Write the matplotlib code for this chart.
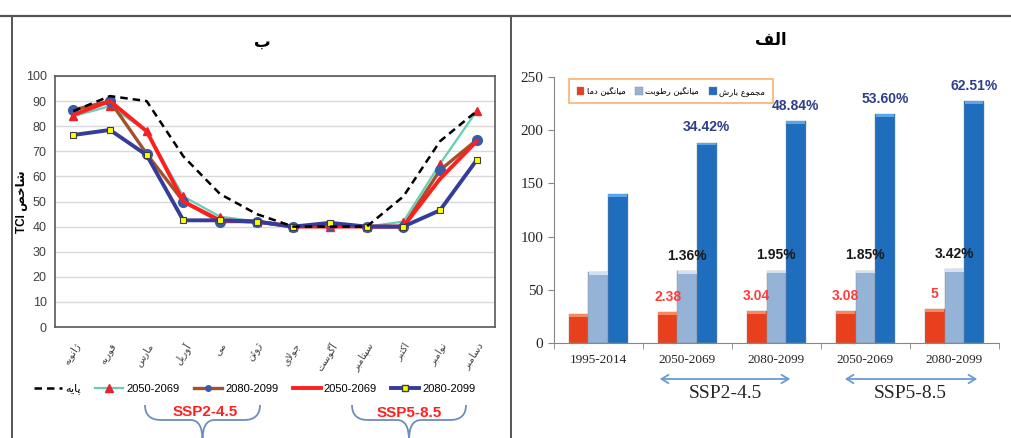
import matplotlib
matplotlib.use('Agg')
import matplotlib.pyplot as plt
from matplotlib import font_manager as fm
from matplotlib.path import Path
from matplotlib.patches import PathPatch
from matplotlib.lines import Line2D
import numpy as np

# --- data: left panel (TCI by month) ---
months = ['ژانویه', 'فوریه', 'مارس', 'آوریل', 'می', 'ژوئن',
          'جولای', 'آگوست', 'سپتامبر', 'اکتبر', 'نوامبر', 'دسامبر']
base = [86, 92, 90, 68, 53, 45, 40, 40, 40, 52, 74, 86]
ssp245_2050 = [84, 88, 78, 52, 44, 42, 40, 40, 40, 42, 65, 86]
ssp245_2080 = [86.5, 90, 69, 50, 42, 42, 40, 40.5, 40, 40, 62.5, 74.5]
ssp585_2050 = [84.5, 90, 78, 50, 42.5, 42, 40, 40, 40, 40, 59, 74]
ssp585_2080 = [76.5, 78.5, 68.5, 42.5, 42.5, 42, 40, 41.5, 40, 40, 46.5, 66.5]

# --- data: right panel (climate variables) ---
periods = ['1995-2014', '2050-2069', '2080-2099', '2050-2069', '2080-2099']
temp = [26.8, 29.2, 29.8, 29.9, 31.8]
humidity = [66.8, 67.7, 68.1, 68.0, 69.1]
precip = [140, 188.2, 208.4, 215.0, 227.5]
temp_lbl = ['', '2.38', '3.04', '3.08', '5']
hum_lbl = ['', '1.36%', '1.95%', '1.85%', '3.42%']
prec_lbl = ['', '34.42%', '48.84%', '53.60%', '62.51%']


# simple persian shaping (matplotlib does no arabic shaping)
FORMS = {
    'ا': (0xFE8D, 0xFE8E), 'آ': (0xFE81, 0xFE82), 'د': (0xFEA9, 0xFEAA),
    'ر': (0xFEAD, 0xFEAE), 'ژ': (0xFB8A, 0xFB8B), 'و': (0xFEED, 0xFEEE),
    'ب': (0xFE8F, 0xFE90, 0xFE91, 0xFE92), 'پ': (0xFB56, 0xFB57, 0xFB58, 0xFB59),
    'ت': (0xFE95, 0xFE96, 0xFE97, 0xFE98), 'ج': (0xFE9D, 0xFE9E, 0xFE9F, 0xFEA0),
    'خ': (0xFEA5, 0xFEA6, 0xFEA7, 0xFEA8), 'س': (0xFEB1, 0xFEB2, 0xFEB3, 0xFEB4),
    'ش': (0xFEB5, 0xFEB6, 0xFEB7, 0xFEB8), 'ص': (0xFEB9, 0xFEBA, 0xFEBB, 0xFEBC),
    'ط': (0xFEC1, 0xFEC2, 0xFEC3, 0xFEC4), 'ع': (0xFEC9, 0xFECA, 0xFECB, 0xFECC),
    'ف': (0xFED1, 0xFED2, 0xFED3, 0xFED4), 'ک': (0xFB8E, 0xFB8F, 0xFB90, 0xFB91),
    'گ': (0xFB92, 0xFB93, 0xFB94, 0xFB95), 'ل': (0xFEDD, 0xFEDE, 0xFEDF, 0xFEE0),
    'م': (0xFEE1, 0xFEE2, 0xFEE3, 0xFEE4), 'ن': (0xFEE5, 0xFEE6, 0xFEE7, 0xFEE8),
    'ه': (0xFEE9, 0xFEEA, 0xFEEB, 0xFEEC), 'ی': (0xFBFC, 0xFBFD, 0xFBFE, 0xFBFF),
    'ئ': (0xFE89, 0xFE8A, 0xFE8B, 0xFE8C),
}


def fa(s):
    out = []
    prev = False
    i = 0
    while i < len(s):
        c = s[i]
        nxt = s[i+1] if i+1 < len(s) else ''
        if c == 'ل' and nxt in ('ا', 'آ'):
            lig = (0xFEFB, 0xFEFC) if nxt == 'ا' else (0xFEF5, 0xFEF6)
            out.append(chr(lig[1] if prev else lig[0]))
            prev = False
            i += 2
            continue
        f = FORMS.get(c)
        if f is None:
            out.append(c)
            prev = False
            i += 1
            continue
        joins = len(f) == 4 and nxt in FORMS
        k = 3 if (prev and joins) else 1 if prev else 2 if joins else 0
        out.append(chr(f[k]))
        prev = joins
        i += 1
    return ''.join(reversed(out))


names = {f.name for f in fm.fontManager.ttflist}
NARROW = 'Liberation Sans Narrow' if 'Liberation Sans Narrow' in names else 'Liberation Sans'
SERIF = 'Liberation Serif'
FAF = 'DejaVu Sans'
plt.rcParams['font.family'] = [NARROW, FAF]

W, H = 1012, 438
fig = plt.figure(figsize=(W/100, H/100), dpi=100)


def box(x0, x1, y0, y1):
    return [x0/W, 1-y1/H, (x1-x0)/W, (y1-y0)/H]


# ---------------- left panel ----------------
ax = fig.add_axes(box(55, 495, 76, 327))
x = np.arange(len(months))
ax.plot(x, ssp245_2050, color='#67CDB3', lw=1.6, marker='^', ms=6,
        mfc='#E8232A', mec='#E8232A', zorder=3)
ax.plot(x, ssp245_2080, color='#A0522D', lw=2.4, marker='o', ms=7,
        mfc='#3A5BA8', mec='#3A5BA8', zorder=4)
ax.plot(x, ssp585_2050, color='#FF1F1F', lw=2.8, zorder=5)
ax.plot(x, ssp585_2080, color='#353C9A', lw=2.8, marker='s', ms=5,
        mfc='#FFFF00', mec='#3C3C3C', mew=0.8, zorder=6)
ax.plot(x, base, color='black', lw=1.8, ls=(0, (3, 2)), zorder=7)

ax.set_xlim(-0.5, 11.5)
ax.set_ylim(0, 100)
ax.set_yticks(range(0, 101, 10))
ax.grid(axis='y', color='#D9D9D9', lw=1)
ax.set_axisbelow(True)
for s in ax.spines.values():
    s.set_color('#595959')
    s.set_linewidth(1.2)
ax.tick_params(length=0, labelsize=9, colors='#404040', pad=6)
ax.set_xticks(x)
ax.set_xticklabels([fa(m) for m in months], rotation=58, ha='right',
                   rotation_mode='anchor', family=FAF, fontsize=7.2,
                   color='#404040')
ax.tick_params(axis='x', pad=10)
ax.set_ylabel('TCI ' + fa('شاخص'), family=[NARROW, FAF], fontsize=8.5,
              fontweight='bold')
ax.yaxis.set_label_coords(-0.062, 0.5)

h = [Line2D([], [], color='black', lw=1.8, ls=(0, (3, 2))),
     Line2D([], [], color='#67CDB3', lw=1.6, marker='^', ms=6, mfc='#E8232A', mec='#E8232A'),
     Line2D([], [], color='#A0522D', lw=2.4, marker='o', ms=4, mfc='#3A5BA8', mec='#3A5BA8'),
     Line2D([], [], color='#FF1F1F', lw=2.8),
     Line2D([], [], color='#353C9A', lw=2.8, marker='s', ms=5, mfc='#FFFF00', mec='#3C3C3C')]
lab = [fa('پایه'), '2050-2069', '2080-2099', '2050-2069', '2080-2099']
lg = fig.legend(h, lab, ncol=5, loc='center', bbox_to_anchor=(255/W, 1-389/H),
                frameon=False, handlelength=2.5, handletextpad=0.3,
                columnspacing=1.3, prop={'family': [NARROW, FAF], 'size': 8})

# ---------------- right panel ----------------
bx = fig.add_axes(box(553.6, 999, 77, 343))
xr = np.arange(len(periods))
bw = 0.22
cols = ['#E8401C', '#95B3D7', '#1F6EBD']
caps = ['#F58A62', '#D2E2F4', '#5AA6E6']
series = [temp, humidity, precip]
names_fa = ['میانگین دما', 'میانگین رطوبت', 'مجموع بارش']
bars = []
for j, (vals, c, cc) in enumerate(zip(series, cols, caps)):
    b = bx.bar(xr + (j-1)*bw, vals, bw, color=c, edgecolor='#8A8A8A', lw=0.3,
               label=fa(names_fa[j]), zorder=2)
    bx.bar(xr + (j-1)*bw, [2.5]*len(vals), bw*0.96, bottom=np.array(vals)-2.5,
           color=cc, lw=0, zorder=3)
    bars.append(b)

lbl_sets = [(temp_lbl, '#FF3B3B'), (hum_lbl, '#1A1A1A'), (prec_lbl, '#2F3E8C')]
for j, (lbls, c) in enumerate(lbl_sets):
    for i, t in enumerate(lbls):
        if t:
            bx.annotate(t, (xr[i] + (j-1)*bw, series[j][i]), xytext=(0, 6),
                        textcoords='offset points', ha='center', va='bottom',
                        color=c, fontsize=10, fontweight='bold', family=NARROW)

bx.set_xlim(-0.5, 4.5)
bx.set_ylim(0, 250)
bx.set_yticks(range(0, 251, 50))
bx.set_xticks(xr)
bx.set_xticklabels(periods, family=SERIF, fontsize=9.5)
bx.set_xticks(np.arange(-0.5, 5, 1), minor=True)
bx.tick_params(axis='x', which='major', length=0, pad=8, colors='#262626')
bx.tick_params(axis='x', which='minor', length=4, color='#868686')
bx.tick_params(axis='y', length=4, color='#868686', labelsize=11, colors='#262626')
for lbl in bx.get_yticklabels():
    lbl.set_family(SERIF)
for k in ('top', 'right'):
    bx.spines[k].set_visible(False)
for k in ('left', 'bottom'):
    bx.spines[k].set_color('#868686')

leg = fig.legend(handles=bars, labels=[fa(n) for n in names_fa], ncol=3,
                 loc='upper left', bbox_to_anchor=(565/W, 1-75/H),
                 prop={'family': FAF, 'size': 6}, handlelength=0.9,
                 handleheight=1.0, handletextpad=0.3, columnspacing=1.2,
                 borderpad=0.9, fancybox=False)
leg.get_frame().set_edgecolor('#F5A04A')
leg.get_frame().set_linewidth(1.2)

# ---------------- overlay: frame, titles, braces, arrows ----------------
ov = fig.add_axes([0, 0, 1, 1])
ov.set_xlim(0, W)
ov.set_ylim(H, 0)
ov.axis('off')
ov.plot([0, W], [16, 16], color='#555555', lw=1.6)
ov.plot([12, 12], [16, H], color='#555555', lw=1.4)
ov.plot([511, 511], [16, H], color='#555555', lw=1.4)

ov.text(262, 42, fa('ب'), family=FAF, fontsize=12, fontweight='bold',
        ha='center', va='center')
ov.text(771, 40, fa('الف'), family=FAF, fontsize=12, fontweight='bold',
        ha='center', va='center')


def brace(x0, x1, ytop, ymid, ybot):
    xc = (x0 + x1) / 2
    verts = [(x0, ytop), (x0, ymid), (x0 + 16, ymid), (xc - 12, ymid),
             (xc, ymid), (xc, ybot),
             (x1, ytop), (x1, ymid), (x1 - 16, ymid), (xc + 12, ymid),
             (xc, ymid), (xc, ybot)]
    codes = [Path.MOVETO, Path.CURVE3, Path.CURVE3, Path.LINETO, Path.CURVE3, Path.CURVE3] * 2
    codes[6] = Path.MOVETO
    ov.add_patch(PathPatch(Path(verts, codes), fill=False, ec='#6C8EBF', lw=1.3))


brace(145, 260, 405, 420, 440)
brace(352, 466, 405, 420, 440)
ov.text(205, 412, 'SSP2-4.5', color='#FF2020', fontsize=11, fontweight='bold',
        ha='center', va='center', family=NARROW)
ov.text(409, 413, 'SSP5-8.5', color='#FF2020', fontsize=11, fontweight='bold',
        ha='center', va='center', family=NARROW)

for a0, a1, tx, t in [(657, 793, 725, 'SSP2-4.5'), (842, 980, 910, 'SSP5-8.5')]:
    ov.annotate('', xy=(a1, 379), xytext=(a0, 379),
                arrowprops=dict(arrowstyle='<->,head_length=0.5,head_width=0.3',
                                color='#6A9BD1', lw=1.3))
    ov.text(tx, 394, t, family=SERIF, fontsize=14, ha='center', va='center',
            color='#262626')

fig.savefig('out.png', dpi=100)
